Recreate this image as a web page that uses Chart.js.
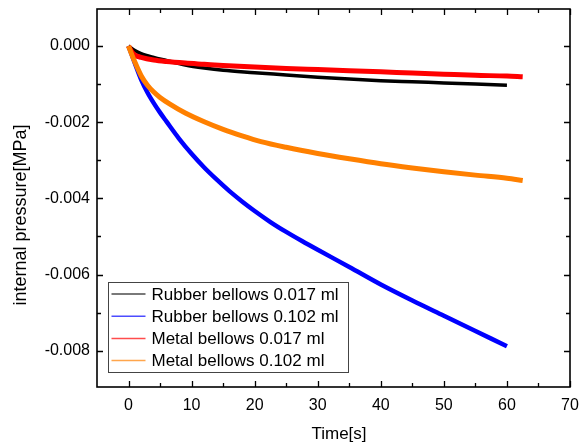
<!DOCTYPE html>
<html>
<head>
<meta charset="utf-8">
<script src="https://cdn.jsdelivr.net/npm/chart.js@4.4.1/dist/chart.umd.min.js"></script>
<style>
  body { margin: 0; background: #fff; }
  #wrap { width: 579px; height: 446px; }
</style>
</head>
<body>
<div id="wrap"><canvas id="chart" width="579" height="446"></canvas></div>
<script>
// Values (time in s, pressure in MPa)
const rubber017T = [0, 1, 2, 4, 6, 9, 12, 15, 20, 25, 30, 35, 40, 45, 50, 55, 60];
const rubber017P = [0, -0.00012, -0.0002, -0.0003, -0.00038, -0.0005, -0.00058, -0.00064, -0.0007, -0.00076, -0.00082, -0.00087, -0.00091, -0.00094, -0.00097, -0.001, -0.00103];

const rubber102T = [0, 1, 2, 3, 4, 5, 6, 8, 10, 12, 14, 16, 18, 20, 22.5, 25, 27.5, 30, 35, 40, 45, 50, 55, 60];
const rubber102P = [0, -0.00045, -0.00088, -0.00122, -0.0015, -0.00175, -0.00198, -0.00243, -0.00283, -0.00319, -0.00351, -0.00381, -0.00408, -0.00433, -0.00462, -0.00488, -0.00512, -0.00535, -0.0058, -0.00626, -0.00668, -0.00708, -0.00748, -0.00788];

const metal017T = [0, 0.5, 1, 2, 4, 6, 9, 12, 15, 20, 25, 30, 35, 40, 45, 50, 55, 60, 62.5];
const metal017P = [0, -0.00015, -0.00024, -0.0003, -0.00037, -0.00041, -0.00045, -0.00048, -0.00051, -0.00055, -0.00059, -0.00062, -0.00065, -0.00068, -0.00071, -0.00074, -0.00077, -0.00079, -0.00081];

const metal102T = [0, 0.5, 1, 2, 3, 4, 5, 6.5, 9, 12, 15, 18, 21, 25, 30, 35, 40, 45, 50, 55, 60, 62.5];
const metal102P = [0, -0.00022, -0.00042, -0.00078, -0.00103, -0.00121, -0.00135, -0.00152, -0.00176, -0.00199, -0.00219, -0.00236, -0.00251, -0.00266, -0.00282, -0.00296, -0.00309, -0.0032, -0.0033, -0.00339, -0.00347, -0.00353];

const seriesLabels = ['Rubber bellows 0.017 ml', 'Rubber bellows 0.102 ml', 'Metal bellows 0.017 ml', 'Metal bellows 0.102 ml'];
const seriesColors = ['#000000', '#0000ff', '#ff0000', '#ff8000'];

// Axis ticks
const xMajor = [0, 10, 20, 30, 40, 50, 60, 70];
const xMinor = [5, 15, 25, 35, 45, 55, 65];
const yMajor = [0, -0.002, -0.004, -0.006, -0.008];
const yMinor = [-0.001, -0.003, -0.005, -0.007];

const FONT = '"Liberation Sans", Arial, sans-serif';
Chart.defaults.font.family = FONT;
Chart.defaults.color = '#000';

function toPoints(ts, ps) {
    return ts.map((t, i) => ({ x: t, y: ps[i] }));
}

function noPad(s) {
    s.paddingTop = 0;
    s.paddingBottom = 0;
    s.paddingLeft = 0;
    s.paddingRight = 0;
}

// Inward tick marks on all four sides plus the frame
const frameTicks = {
    id: 'frameTicks',
    afterDatasetsDraw(chart) {
        const { ctx, chartArea: a, scales: { x, y } } = chart;
        ctx.save();
        ctx.strokeStyle = '#000';
        ctx.lineWidth = 1.3;
        ctx.beginPath();
        const vTick = (v, len) => {
            const px = Math.round(x.getPixelForValue(v)) + 0.5;
            ctx.moveTo(px, a.bottom); ctx.lineTo(px, a.bottom - len);
            ctx.moveTo(px, a.top); ctx.lineTo(px, a.top + len);
        };
        const hTick = (v, len) => {
            const py = Math.round(y.getPixelForValue(v)) + 0.5;
            ctx.moveTo(a.left, py); ctx.lineTo(a.left + len, py);
            ctx.moveTo(a.right, py); ctx.lineTo(a.right - len, py);
        };
        xMajor.forEach(v => vTick(v, 6));
        xMinor.forEach(v => vTick(v, 4));
        yMajor.forEach(v => hTick(v, 6));
        yMinor.forEach(v => hTick(v, 4));
        ctx.stroke();
        ctx.lineWidth = 1.6;
        ctx.strokeRect(a.left, a.top, a.right - a.left, a.bottom - a.top);
        ctx.restore();
    }
};

// Legend box inside the plot (bottom left) and the axis titles
const boxLegend = {
    id: 'boxLegend',
    afterDraw(chart) {
        const { ctx } = chart;
        const left = 108.5, top = 282.5, w = 240, h = 90, rowH = 22.2;
        ctx.save();
        ctx.fillStyle = '#fff';
        ctx.fillRect(left, top, w, h);
        ctx.strokeStyle = '#444';
        ctx.lineWidth = 1;
        ctx.strokeRect(left, top, w, h);
        ctx.font = '17px ' + FONT;
        ctx.textBaseline = 'middle';
        chart.data.datasets.forEach((ds, i) => {
            const cy = top + 11.5 + i * rowH;
            ctx.strokeStyle = ds.borderColor;
            ctx.globalAlpha = 0.7;
            ctx.lineWidth = 1.5;
            ctx.beginPath();
            ctx.moveTo(left + 3, cy);
            ctx.lineTo(left + 37, cy);
            ctx.stroke();
            ctx.globalAlpha = 1;
            ctx.fillStyle = '#000';
            ctx.fillText(ds.label, left + 43, cy + 1);
        });
        ctx.textAlign = 'center';
        ctx.fillText('Time[s]', 339, 434);
        ctx.font = '18px ' + FONT;
        ctx.translate(21, 215);
        ctx.rotate(-Math.PI / 2);
        ctx.fillText('internal pressure[MPa]', 0, 0);
        ctx.restore();
    }
};

const ctx = document.getElementById('chart').getContext('2d');
new Chart(ctx, {
    type: 'line',
    data: {
        datasets: [
            { label: seriesLabels[0], data: toPoints(rubber017T, rubber017P), borderColor: seriesColors[0], borderWidth: 3.5, order: 4 },
            { label: seriesLabels[1], data: toPoints(rubber102T, rubber102P), borderColor: seriesColors[1], borderWidth: 4.5, order: 3 },
            { label: seriesLabels[2], data: toPoints(metal017T, metal017P), borderColor: seriesColors[2], borderWidth: 5, order: 2 },
            { label: seriesLabels[3], data: toPoints(metal102T, metal102P), borderColor: seriesColors[3], borderWidth: 5, order: 1 }
        ]
    },
    options: {
        responsive: false,
        animation: false,
        layout: { padding: { top: 9, right: 9, left: 0, bottom: 0 } },
        elements: {
            point: { radius: 0 },
            line: { cubicInterpolationMode: 'monotone', borderCapStyle: 'butt' }
        },
        plugins: {
            legend: { display: false },
            tooltip: { enabled: false }
        },
        scales: {
            x: {
                type: 'linear',
                min: -5,
                max: 70,
                grid: { display: false, drawTicks: false },
                border: { display: false },
                afterBuildTicks: s => { s.ticks = xMajor.map(v => ({ value: v })); },
                afterFit: s => { s.height = 59; noPad(s); },
                ticks: { font: { size: 16 }, padding: 9, maxRotation: 0 },
                title: { display: false }
            },
            y: {
                type: 'linear',
                min: -0.00895,
                max: 0.00097,
                grid: { display: false, drawTicks: false },
                border: { display: false },
                afterBuildTicks: s => { s.ticks = yMajor.map(v => ({ value: v })); },
                afterFit: s => { s.width = 97; noPad(s); },
                ticks: { font: { size: 16 }, padding: 7, callback: v => v.toFixed(3) },
                title: { display: false }
            }
        }
    },
    plugins: [frameTicks, boxLegend]
});
</script>
</body>
</html>
